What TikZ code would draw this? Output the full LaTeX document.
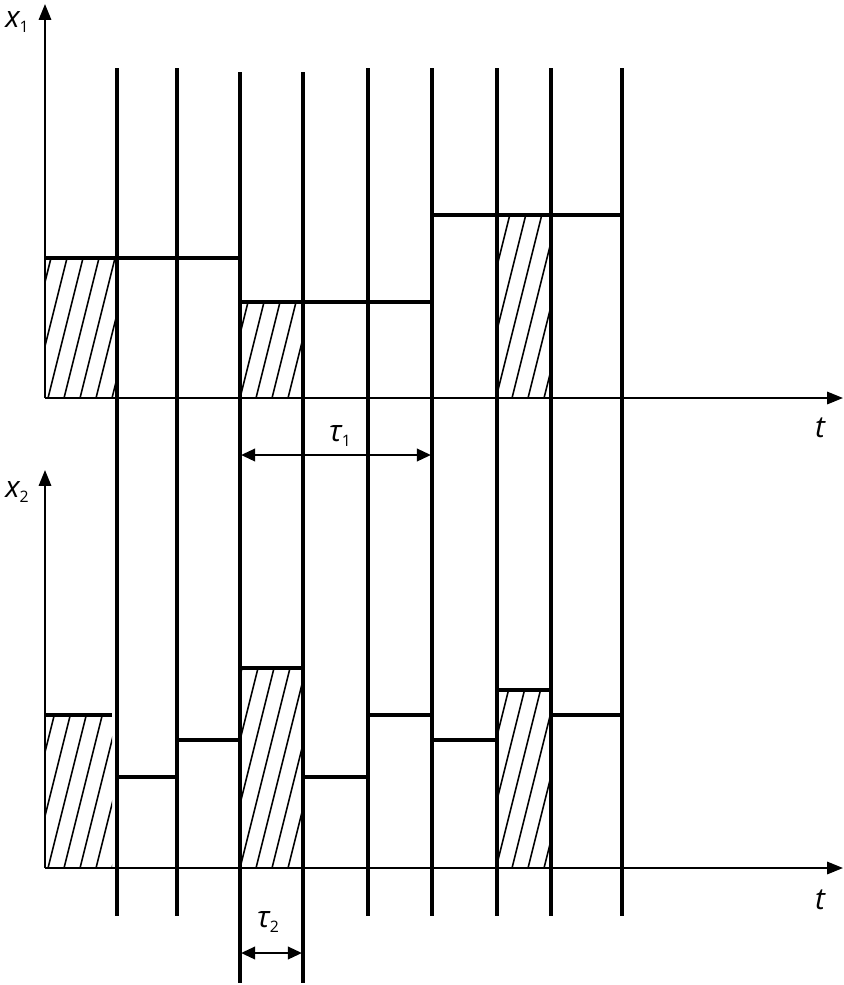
\documentclass[tikz,border=0pt]{standalone}
\usepackage{fontspec}
\setmainfont{Open Sans}
\usetikzlibrary{arrows.meta}
\begin{document}
\begin{tikzpicture}[x=0.02cm,y=-0.02cm,
  bar/.style={line width=1.8pt},
  ax/.style={line width=1.2pt,-{Triangle[length=9pt,width=7pt]}},
  dim/.style={line width=1.5pt,{Triangle[length=8pt,width=7pt]}-{Triangle[length=8pt,width=7pt]}},
  hat/.style={line width=0.9pt},
  lbl/.style={font=\itshape\fontsize{17}{17}\selectfont}]
\useasboundingbox (0,0) rectangle (844,985);
% hatching
\newcommand{\hatchbox}[4]{%
  \begin{scope}\clip (#1,#2) rectangle (#3,#4);
  \foreach \k in {-400,-384,...,900}{\draw[hat] (\k,#4) -- ++(100,-400);}
  \end{scope}}
\hatchbox{45}{258}{117}{398}
\hatchbox{240}{302}{303}{398}
\hatchbox{497}{215}{551}{398}
\hatchbox{45}{715}{112}{868}
\hatchbox{240}{668}{303}{868}
\hatchbox{497}{690}{551}{868}
% axes
\draw[ax] (45,398) -- (45,4);
\draw[ax] (45,398) -- (843,398);
\draw[ax] (45,868) -- (45,470);
\draw[ax] (45,868) -- (843,868);
\node[lbl] (x1) at (17,22) {x\raisebox{-3pt}{\upshape\small 1}};
\node[lbl] (x2) at (17,492) {x\raisebox{-3pt}{\upshape\small 2}};
\node[lbl] (t1) at (820,428) {t};
\node[lbl] (t2) at (820,900) {t};
% vertical lines
\foreach \x/\a/\b in {117/68/916,177/68/916,240/72/983,303/72/983,368/68/916,432/68/916,497/68/916,551/68/916,622/68/916}
  \draw[bar] (\x,\a) -- (\x,\b);
% top levels
\draw[bar] (45,258) -- (240,258);
\draw[bar] (240,302) -- (432,302);
\draw[bar] (432,215) -- (622,215);
% bottom levels
\draw[bar] (45,715) -- (112,715);
\draw[bar] (117,777) -- (177,777);
\draw[bar] (177,740) -- (240,740);
\draw[bar] (240,668) -- (303,668);
\draw[bar] (303,777) -- (368,777);
\draw[bar] (368,715) -- (432,715);
\draw[bar] (432,740) -- (497,740);
\draw[bar] (497,690) -- (551,690);
\draw[bar] (551,715) -- (622,715);
% dimensions
\coordinate (a1) at (241,455); \coordinate (b1) at (431,455);
\draw[dim] (a1) -- (b1);
\node[lbl] (tau1) at (340,436) {τ\raisebox{-3pt}{\upshape\small 1}};
\coordinate (a2) at (241,953); \coordinate (b2) at (302,953);
\draw[dim] (a2) -- (b2);
\node[lbl] (tau2) at (268,922) {τ\raisebox{-3pt}{\upshape\small 2}};
\end{tikzpicture}
\end{document}
